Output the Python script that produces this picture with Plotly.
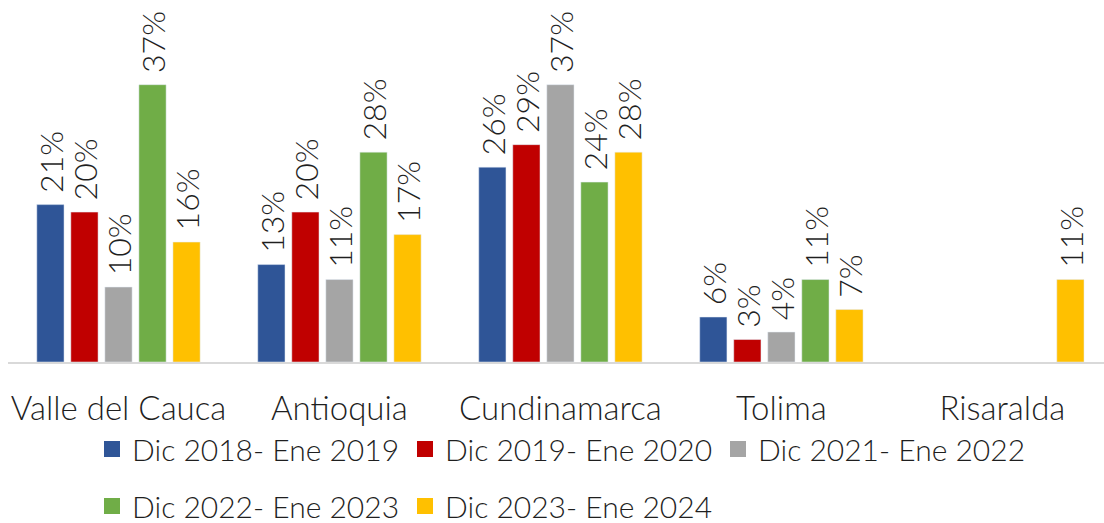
import plotly.graph_objects as go

categories = ["Valle del Cauca", "Antioquia", "Cundinamarca", "Tolima", "Risaralda"]
series_names = ["Dic 2018- Ene 2019", "Dic 2019- Ene 2020", "Dic 2021- Ene 2022",
                "Dic 2022- Ene 2023", "Dic 2023- Ene 2024"]
s2018 = [21, 13, 26, 6, None]
s2019 = [20, 20, 29, 3, None]
s2021 = [10, 11, 37, 4, None]
s2022 = [37, 28, 24, 11, None]
s2023 = [16, 17, 28, 7, 11]
series_values = [s2018, s2019, s2021, s2022, s2023]
colors = ["#2F5597", "#C00000", "#A5A5A5", "#70AD47", "#FFC000"]

FONT = "Lato"
TXT = "#1f1f1f"
fig = go.Figure()
for i, (name, vals, col) in enumerate(zip(series_names, series_values, colors)):
    fig.add_trace(go.Bar(
        x=categories, y=vals, name=name, marker_color=col,
        text=[("\u00a0" + f"{v}%") if v is not None else "" for v in vals],
        textposition="outside", textangle=-90, cliponaxis=False,
        constraintext="none", showlegend=False, legendgroup=name,
        textfont=dict(family=FONT, size=32, color=TXT, weight=300),
    ))
# legend entries (square swatches)
for i, (name, col) in enumerate(zip(series_names, colors)):
    fig.add_trace(go.Scatter(
        x=[None], y=[None], mode="markers", name=name, legendgroup=name,
        marker=dict(symbol="square", size=20, color=col),
        legend="legend" if i < 3 else "legend2",
    ))

leg_common = dict(orientation="h", x=(92 - 8) / 1096, xanchor="left", yanchor="middle",
                  entrywidth=268, entrywidthmode="pixels",
                  font=dict(family=FONT, size=30, color=TXT, weight=300),
                  bgcolor="rgba(0,0,0,0)")

fig.update_layout(
    width=1104, height=523,
    margin=dict(l=8, r=0, t=0, b=161, autoexpand=False),
    paper_bgcolor="white", plot_bgcolor="white",
    barmode="group", bargap=0.23, bargroupgap=0.2,
    font=dict(family=FONT, size=30, color=TXT, weight=300),
    showlegend=True,
    legend=dict(y=-(449 - 362) / 362, **leg_common),
    legend2=dict(y=-(506 - 362) / 362, **leg_common),
)
fig.update_xaxes(range=[-0.5, 4.46], showline=True, linecolor="#D9D9D9", linewidth=2,
                 ticks="outside", ticklen=16, tickcolor="rgba(0,0,0,0)", automargin=False,
                 showgrid=False, tickfont=dict(family=FONT, size=33, color=TXT, weight=300))
fig.update_yaxes(range=[0, 48.3], visible=False, showgrid=False, automargin=False)

fig.write_html("out.html", config={"displayModeBar": False},
               post_script="document.body.style.margin='0';document.body.style.padding='0';")
